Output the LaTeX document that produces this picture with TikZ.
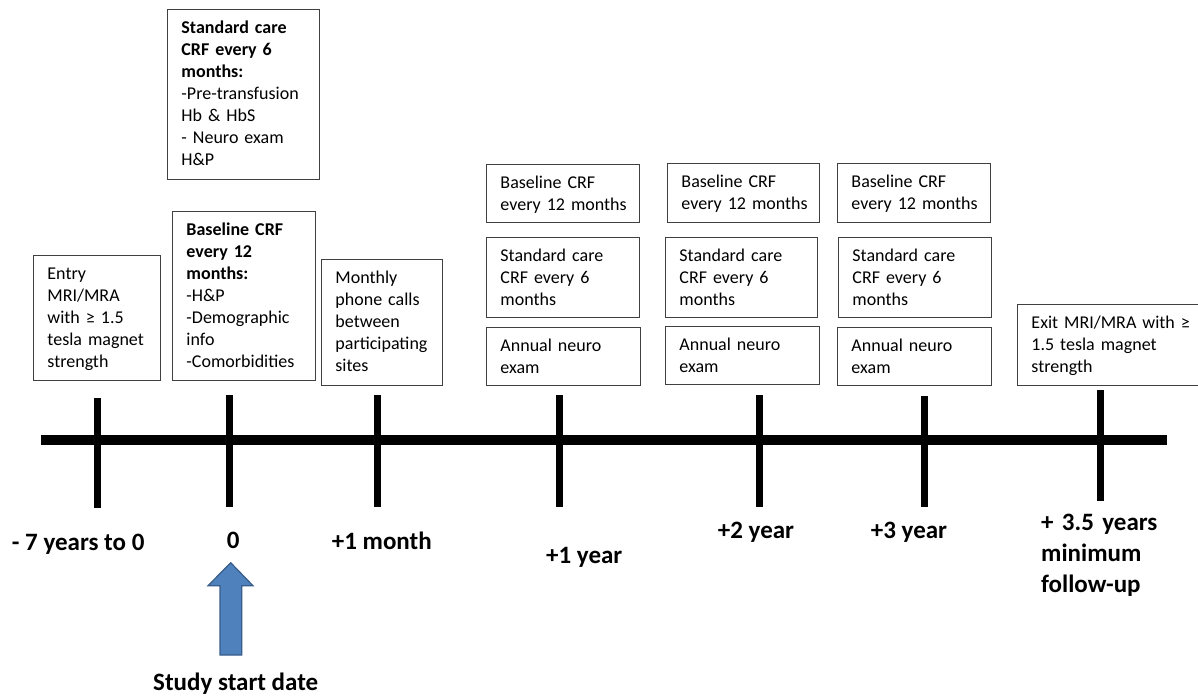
\documentclass[tikz,border=0pt]{standalone}
\usepackage{fontspec}
\setmainfont{Carlito}
\hyphenpenalty=10000
\exhyphenpenalty=10000
\definecolor{arrowblue}{HTML}{4F81BD}
\definecolor{arrowedge}{HTML}{385D8A}
\definecolor{boxedge}{HTML}{404040}
\begin{document}
\begin{tikzpicture}[x=1pt,y=-1pt,
  box/.style 2 args={draw=boxedge, line width=0.9pt, anchor=north west,
    inner xsep=14pt, inner ysep=0pt, text width=#1, text height=24pt,
    text depth=#2, align=left, font=\fontsize{18}{22}\selectfont},
  lbl/.style={font=\fontsize{25}{31}\selectfont\bfseries, anchor=base west, inner sep=0pt},
  axis/.style={line width=10pt, black},
  tick/.style={line width=7pt, black}]
\clip (0,0) rectangle (1198,696);
\fill[white] (0,0) rectangle (1198,696);

% boxes
\node[box={124pt}{146pt}] (std0) at (167,9)
  {\textbf{Standard~care}\\\textbf{CRF~every~6}\\\textbf{months:}\\-Pre-transfusion\\Hb~\&~HbS\\-~Neuro~exam\\H\&P};
\node[box={115pt}{145pt}] (base0) at (172,211)
  {\textbf{Baseline~CRF}\\\textbf{every~12}\\\textbf{months:}\\-H\&P\\-Demographic\\info\\-Comorbidities};
\node[box={99pt}{101pt}] (entry) at (33,255)
  {Entry\\MRI/MRA\\with~≥~1.5\\tesla~magnet\\strength};
\node[box={93pt}{102pt}] (monthly) at (321,259)
  {Monthly\\phone~calls\\between\\participating\\sites};

\node[box={125pt}{34pt}] (b1) at (486,164) {Baseline~CRF\\every~12~months};
\node[box={125pt}{56pt}] (s1) at (486,237) {Standard~care\\CRF~every~6\\months};
\node[box={126pt}{34pt}] (a1) at (486,327) {Annual~neuro\\exam};

\node[box={124pt}{35pt}] (b2) at (667,163) {Baseline~CRF\\every~12~months};
\node[box={124pt}{56pt}] (s2) at (665,237) {Standard~care\\CRF~every~6\\months};
\node[box={126pt}{34pt}] (a2) at (665,326) {Annual~neuro\\exam};

\node[box={125pt}{35pt}] (b3) at (837,163) {Baseline~CRF\\every~12~months};
\node[box={125pt}{56pt}] (s3) at (838,237) {Standard~care\\CRF~every~6\\months};
\node[box={126pt}{34pt}] (a3) at (837,327) {Annual~neuro\\exam};

\node[box={172pt}{57pt}] (exit) at (1017,304) {Exit~MRI/MRA~with~≥\\1.5~tesla~magnet\\strength};

% timeline
\draw[axis] (40.7,440.3) -- (1166.7,440.3);
\draw[tick] (97.3,398) -- (97.3,507.7);
\draw[tick] (229,395) -- (229,507);
\draw[tick] (377.3,395) -- (377.3,507);
\draw[tick] (559.7,395) -- (559.7,507);
\draw[tick] (759,395) -- (759,507);
\draw[tick] (924,396) -- (924,507);
\draw[tick] (1100.7,390) -- (1100.7,501);

% labels
\node[lbl] (l7) at (11.7,550) {- 7 years to 0};
\node[lbl] (l0) at (226.7,548.3) {0};
\node[lbl] (lm) at (331.7,549.3) {+1 month};
\node[lbl] (l1) at (546,563.3) {+1 year};
\node[lbl] (l2) at (717.7,538.7) {+2 year};
\node[lbl] (l3) at (870.7,538.7) {+3 year};
\node[lbl, text width=150pt, align=left] (l35) at (1041,530.7) {+ 3.5 years\\minimum\\follow-up};
\node[lbl] (start) at (153,690.7) {Study start date};

% block arrow
\draw[fill=arrowblue, draw=arrowedge, line width=1.2pt, line join=miter]
  (220,655) -- (220,585.7) -- (208,585.7) -- (230.7,562.7) -- (253,585.7)
  -- (241.7,585.7) -- (241.7,655) -- cycle;
\end{tikzpicture}
\end{document}
